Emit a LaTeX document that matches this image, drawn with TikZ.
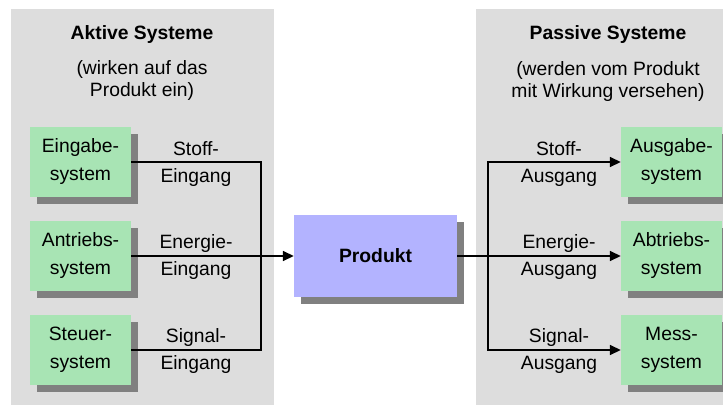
\documentclass[tikz,border=0pt]{standalone}
\usepackage{fontspec}
\setmainfont{Liberation Sans}
\usetikzlibrary{arrows.meta,shadows}
\definecolor{panelgray}{RGB}{221,221,221}
\definecolor{sysgreen}{RGB}{168,228,180}
\definecolor{prodblue}{RGB}{179,179,255}
\definecolor{shadowgray}{RGB}{128,128,128}
\tikzset{
  panel/.style={fill=panelgray, draw=none},
  sysbox/.style={fill=sysgreen, draw=none, minimum width=101pt, minimum height=70pt,
    inner sep=0pt, align=center, font=\fontsize{19.3}{28}\selectfont,
    drop shadow={shadow xshift=7pt, shadow yshift=-7pt, fill=shadowgray, opacity=1}},
  prodbox/.style={sysbox, fill=prodblue, minimum width=163pt, minimum height=82pt,
    font=\fontsize{19.3}{28}\selectfont\bfseries},
  flowlabel/.style={align=center, inner sep=0pt, font=\fontsize{19.3}{27}\selectfont},
  title/.style={inner sep=0pt, font=\fontsize{19.3}{22}\selectfont\bfseries},
  subtitle/.style={align=center, inner sep=0pt, font=\fontsize{19.3}{22}\selectfont},
  flow/.style={line width=1.6pt},
  flowarrow/.style={flow, -{Triangle[length=11pt,width=10pt]}}
}
\begin{document}
\begin{tikzpicture}[x=1pt,y=-1pt]
  \useasboundingbox (0,0) rectangle (723,405);

  % background panels
  \fill[panel] (11,9) rectangle (274,405);
  \fill[panel] (476,9) rectangle (723,405);

  % panel headings
  \node[title] (tl) at (142,35) {Aktive Systeme};
  \node[subtitle] (sl) at (142,81) {(wirken auf das\\Produkt ein)};
  \node[title] (tr) at (608,35) {Passive Systeme};
  \node[subtitle] (sr) at (608,82) {(werden vom Produkt\\mit Wirkung versehen)};

  % active systems
  \node[sysbox] (ein) at (80.5,162) {Eingabe-\\system};
  \node[sysbox] (ant) at (80.5,256) {Antriebs-\\system};
  \node[sysbox] (ste) at (80.5,350) {Steuer-\\system};

  % product
  \node[prodbox] (prod) at (375.5,256) {Produkt};

  % passive systems
  \node[sysbox] (aus) at (671.5,162) {Ausgabe-\\system};
  \node[sysbox] (abt) at (671.5,256) {Abtriebs-\\system};
  \node[sysbox] (mes) at (671.5,350) {Mess-\\system};

  % junction points
  \coordinate (jin) at (261,256);
  \coordinate (jout) at (488,256);

  % inputs
  \draw[flow] (ein.east) -| (jin);
  \draw[flow] (ste.east) -| (jin);
  \draw[flowarrow] (ant.east) -- (prod.west);

  % outputs
  \draw[flow] (prod.east) -- (jout);
  \draw[flowarrow] (jout) |- (aus.west);
  \draw[flowarrow] (jout) -- (abt.west);
  \draw[flowarrow] (jout) |- (mes.west);

  % flow labels
  \node[flowlabel] (l1) at (196,164) {Stoff-\\Eingang};
  \node[flowlabel] (l2) at (196,257) {Energie-\\Eingang};
  \node[flowlabel] (l3) at (196,351) {Signal-\\Eingang};
  \node[flowlabel] (r1) at (559,164) {Stoff-\\Ausgang};
  \node[flowlabel] (r2) at (559,257) {Energie-\\Ausgang};
  \node[flowlabel] (r3) at (559,351) {Signal-\\Ausgang};
\end{tikzpicture}
\end{document}
